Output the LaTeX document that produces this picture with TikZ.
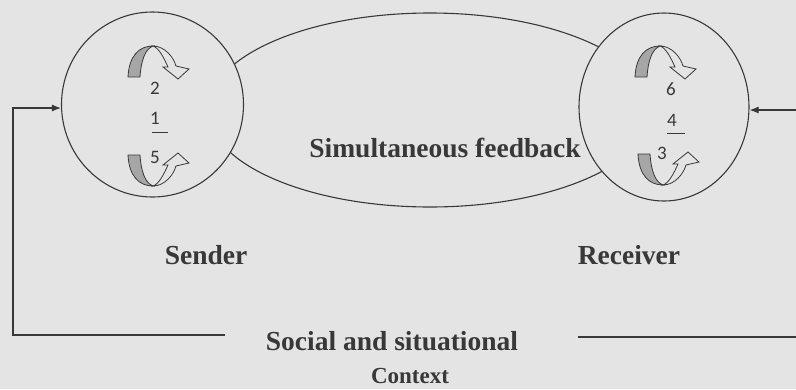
\documentclass[tikz,border=0pt]{standalone}
\usepackage{fontspec}
\setmainfont{Liberation Serif}
\newfontfamily\digitfont{Carlito}
\usetikzlibrary{arrows.meta,shapes.geometric}
\definecolor{bg}{HTML}{E4E4E4}
\definecolor{ink}{HTML}{383838}
\definecolor{band}{HTML}{A6A6A6}
\begin{document}
\begin{tikzpicture}[x=1pt,y=-1pt,
  lab/.style={font=\bfseries\fontsize{27.5}{30}\selectfont, text=ink, inner sep=0pt},
  smalllab/.style={font=\bfseries\fontsize{23}{26}\selectfont, text=ink, inner sep=0pt},
  num/.style={font=\digitfont\fontsize{19}{21}\selectfont, text=ink, inner sep=0pt},
  ring/.style={ellipse, draw=ink, line width=1.1pt, fill=bg, inner sep=0pt},
  conn/.style={draw=ink, line width=1.1pt},
  arr/.style={conn, -{Latex[length=9pt,width=7pt]}},
  curvarrow/.pic={
    \fill[band, draw=ink, line width=0.8pt] (-25,31) .. controls (-24,10) and (-14,0) .. (0,0) .. controls (-8,3) and (-12,15) .. (-13,31) -- cycle;
    \filldraw[fill=bg, draw=ink, line width=0.8pt] (0,0) .. controls (12,0) and (21,12) .. (23,20) -- (36,23) -- (25,33) -- (10,21) -- (15,21) .. controls (11,12) and (6,2) .. (0,0) -- cycle;
  }
]
\fill[bg] (0,0) rectangle (796,389);
\useasboundingbox (0,0) rectangle (796,389);
\clip (0,0) rectangle (796,389);

% feedback ellipse
\node[ellipse, draw=ink, line width=1.1pt, minimum width=444pt, minimum height=194pt, inner sep=0pt] (fb) at (430,110) {};
% sender and receiver
\node[ring, minimum width=182pt, minimum height=185pt] (snd) at (152.5,104.5) {};
\node[ring, minimum width=170pt, minimum height=188pt] (rcv) at (664,107) {};

% curved arrows
\pic at (153,46) {curvarrow};
\pic[yscale=-1] at (153,186) {curvarrow};
\pic at (660,46) {curvarrow};
\pic[yscale=-1] at (663,185) {curvarrow};

% numbers
\node[num] (n2) at (155,88) {2};
\node[num] (n1) at (155,118) {1};
\node[num] (n5) at (155,157) {5};
\node[num] (n6) at (671,89) {6};
\node[num] (n4) at (672,120) {4};
\node[num] (n3) at (662,153) {3};
\coordinate (u1a) at (152,132); \coordinate (u1b) at (168,132);
\coordinate (u4a) at (667,133); \coordinate (u4b) at (685,133);
\draw[ink, line width=1pt] (u1a) -- (u1b);
\draw[ink, line width=1pt] (u4a) -- (u4b);

% labels
\node[lab] (tfb) at (445,148) {Simultaneous feedback};
\node[lab] (tsnd) at (206,255) {Sender};
\node[lab] (trcv) at (629,255) {Receiver};
\node[lab] (tsoc) at (392,341) {Social and situational};
\node[smalllab] (tctx) at (410,376) {Context};

% context connectors
\coordinate (lend) at (225,335);
\coordinate (lcorner) at (13,335);
\coordinate (lc) at (13,108);
\draw[arr] (lend) -- (lcorner) -- (lc) -- (snd.west |- lc);
\coordinate (rend) at (578,337);
\coordinate (rcorner) at (802,337);
\coordinate (rc) at (802,110);
\draw[arr] (rend) -- (rcorner) -- (rc) -- (rcv.east |- rc);
\end{tikzpicture}
\end{document}
